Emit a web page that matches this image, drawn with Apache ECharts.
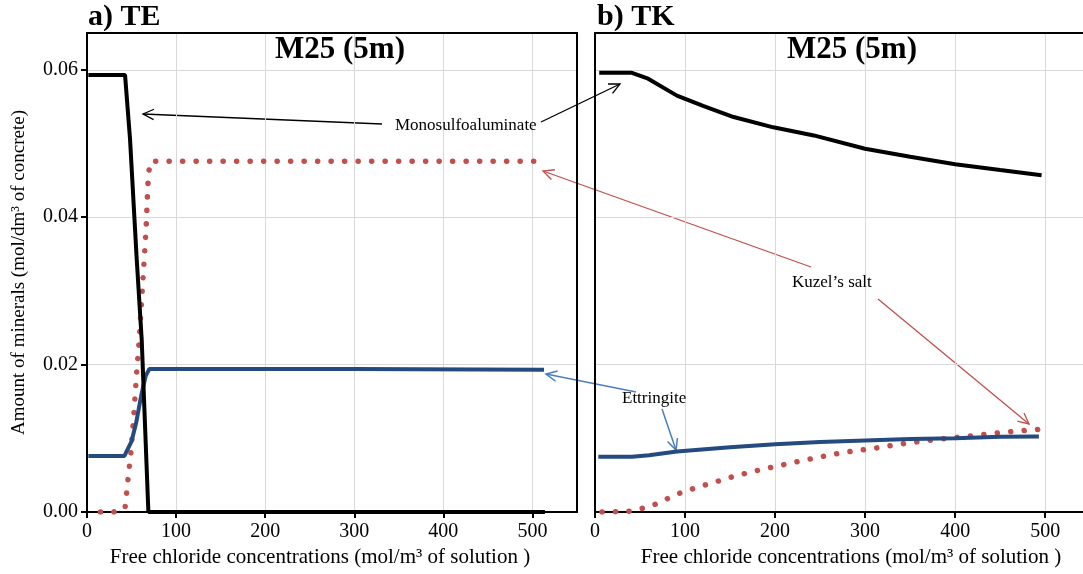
<!DOCTYPE html>
<html>
<head>
<meta charset="utf-8">
<script src="https://cdn.jsdelivr.net/npm/echarts@6/dist/echarts.min.js"></script>
<style>
  html, body { margin: 0; padding: 0; background: #fff; }
  #main { width: 1083px; height: 574px; }
</style>
</head>
<body>
<div id="main"></div>
<script>
// x ticks and y ticks
var xTicks = [0, 100, 200, 300, 400, 500];
var yTicks = [0, 0.02, 0.04, 0.06];

// a) TE  [free chloride, amount]
var teMono  = [[1.5,0.0593],[42.7,0.0593],[48.3,0.0506],[55.8,0.0343],[61.4,0.0234],[68.9,0],[514,0]];
var teKuzel = [[15,0],[30,0],[42.7,0.0005],[46,0.0044],[49.4,0.0082],[52.8,0.0137],[56,0.0194],[58.4,0.0231],[62,0.030],[66.3,0.0384],[68.9,0.046],[72,0.0476],[512,0.0476]];
var teEtt   = [[1.5,0.0076],[42,0.0076],[50,0.0096],[55,0.012],[61,0.0159],[66,0.0185],[70,0.0194],[300,0.0194],[513,0.0193]];

// b) TK
var tkMono  = [[4.7,0.0596],[41,0.0596],[59,0.0588],[91,0.0565],[120,0.0551],[154,0.0536],[198,0.0522],[243,0.0511],[300,0.0493],[350,0.0482],[400,0.0472],[450,0.0464],[496,0.0457]];
var tkEtt   = [[3.7,0.0075],[41,0.0075],[60,0.0077],[91,0.0082],[150,0.0088],[200,0.0092],[250,0.0095],[300,0.0097],[350,0.0099],[400,0.0100],[450,0.0102],[493,0.01025]];
var tkKuzel = [[7.8,0],[38,0.0001],[53,0.0005],[68,0.0011],[82,0.0019],[97,0.0027],[126,0.0038],[156,0.0049],[186,0.0058],[216,0.0066],[247,0.0074],[277,0.0081],[308,0.0086],[338,0.0092],[369,0.0097],[400,0.0101],[431,0.0105],[461,0.0109],[493,0.0112]];

var FONT = "'Liberation Serif', 'Times New Roman', serif";
var xName = 'Free chloride concentrations (mol/m\u00b3 of solution )';
var yName = 'Amount of minerals (mol/dm\u00b3 of concrete)';

var myChart = echarts.init(document.getElementById('main'));

// arrow with an open head, for the callouts
function arrow(x1, y1, x2, y2, color, w) {
    var a = Math.atan2(y2 - y1, x2 - x1), L = 12, s = 0.45;
    return {
        type: 'group',
        children: [
            { type: 'line', shape: { x1: x1, y1: y1, x2: x2, y2: y2 }, style: { stroke: color, lineWidth: w } },
            { type: 'polyline', shape: { points: [
                [x2 - L * Math.cos(a - s), y2 - L * Math.sin(a - s)], [x2, y2],
                [x2 - L * Math.cos(a + s), y2 - L * Math.sin(a + s)] ] },
              style: { stroke: color, lineWidth: w, fill: null } }
        ]
    };
}
function label(txt, x, y, size, bold, align) {
    return { type: 'text', x: x, y: y, z: 10, style: {
        text: txt, font: (bold ? 'bold ' : '') + size + 'px ' + FONT,
        fill: '#000', textAlign: align || 'left', textVerticalAlign: 'middle' } };
}

function xAxisOf(idx, max, pad) {
    return {
        gridIndex: idx, type: 'value', min: 0, max: max, interval: 100,
        name: xName, nameLocation: 'middle', nameGap: 34,
        nameTextStyle: { fontFamily: FONT, fontSize: 21, color: '#000', padding: pad },
        axisLine: { show: true, onZero: false, lineStyle: { color: '#000', width: 2 } },
        axisTick: { show: true, length: 6, lineStyle: { color: '#000', width: 2 } },
        axisLabel: { fontFamily: FONT, fontSize: 20, color: '#000', margin: 10, showMaxLabel: false,
            formatter: function (v) { return xTicks.indexOf(v) >= 0 ? String(v) : ''; } },
        splitLine: { show: true, showMaxLine: false, lineStyle: { color: '#d9d9d9', width: 1 } }
    };
}
function yAxisOf(idx, withLabels) {
    return {
        gridIndex: idx, type: 'value', min: 0, max: 0.065, interval: 0.02,
        name: withLabels ? yName : '', nameLocation: 'middle', nameGap: 58,
        nameTextStyle: { fontFamily: FONT, fontSize: 19, color: '#000' },
        axisLine: { show: true, lineStyle: { color: '#000', width: 2 } },
        axisTick: { show: withLabels, length: 6, lineStyle: { color: '#000', width: 2 } },
        axisLabel: { show: withLabels, fontFamily: FONT, fontSize: 20, color: '#000', margin: 9,
            showMaxLabel: false, formatter: function (v) { return v.toFixed(2); } },
        splitLine: { show: true, showMaxLine: false, lineStyle: { color: '#d9d9d9', width: 1 } }
    };
}
// bare frame line
function frame(idx, pos, max) {
    return { gridIndex: idx, type: 'value', position: pos, min: 0, max: max,
        axisLine: { show: true, onZero: false, lineStyle: { color: '#000', width: 2 } },
        axisTick: { show: false }, axisLabel: { show: false }, splitLine: { show: false } };
}
function solid(idx, data, color) {
    return { type: 'line', xAxisIndex: idx, yAxisIndex: idx, data: data, symbol: 'none',
        lineStyle: { color: color, width: 4 }, z: 3 };
}
function dots(idx, data) {
    return { type: 'line', xAxisIndex: idx, yAxisIndex: idx, data: data, symbol: 'none',
        lineStyle: { color: '#c0504d', width: 5.5, type: [0.1, 13.4], cap: 'round' }, z: 2 };
}

var option = {
    animation: false,
    backgroundColor: '#fff',
    grid: [
        { left: 87, top: 33, width: 490, height: 479 },
        { left: 595, top: 33, width: 488, height: 479 }
    ],
    xAxis: [
        xAxisOf(0, 550, [0, 24, 0, 0]),
        xAxisOf(1, 542, [0, 0, 0, 24]),
        frame(0, 'top', 550),
        frame(1, 'top', 542)
    ],
    yAxis: [ yAxisOf(0, true), yAxisOf(1, false), frame(0, 'right', 0.065) ],
    series: [
        dots(0, teKuzel), solid(0, teEtt, '#244a7f'), solid(0, teMono, '#000'),
        dots(1, tkKuzel), solid(1, tkEtt, '#244a7f'), solid(1, tkMono, '#000')
    ],
    graphic: [
        label('a) TE', 88, 17, 30, true),
        label('b) TK', 597, 17, 30, true),
        label('M25 (5m)', 340, 50, 31, true, 'center'),
        label('M25 (5m)', 852, 50, 31, true, 'center'),
        label('Monosulfoaluminate', 395, 126, 17),
        label('Kuzel\u2019s salt', 792, 283, 17),
        label('Ettringite', 622, 399, 17),
        arrow(382, 124, 143, 114, '#000', 1.3),
        arrow(541, 122, 620, 84, '#000', 1.3),
        arrow(811, 267, 543, 171, '#c0504d', 1.3),
        arrow(878, 299, 1029, 424, '#c0504d', 1.3),
        arrow(636, 392, 546, 374, '#4a7ebb', 1.5),
        arrow(662, 409, 676, 450, '#4a7ebb', 1.5)
    ]
};
myChart.setOption(option);
window.onresize = myChart.resize;
</script>
</body>
</html>
